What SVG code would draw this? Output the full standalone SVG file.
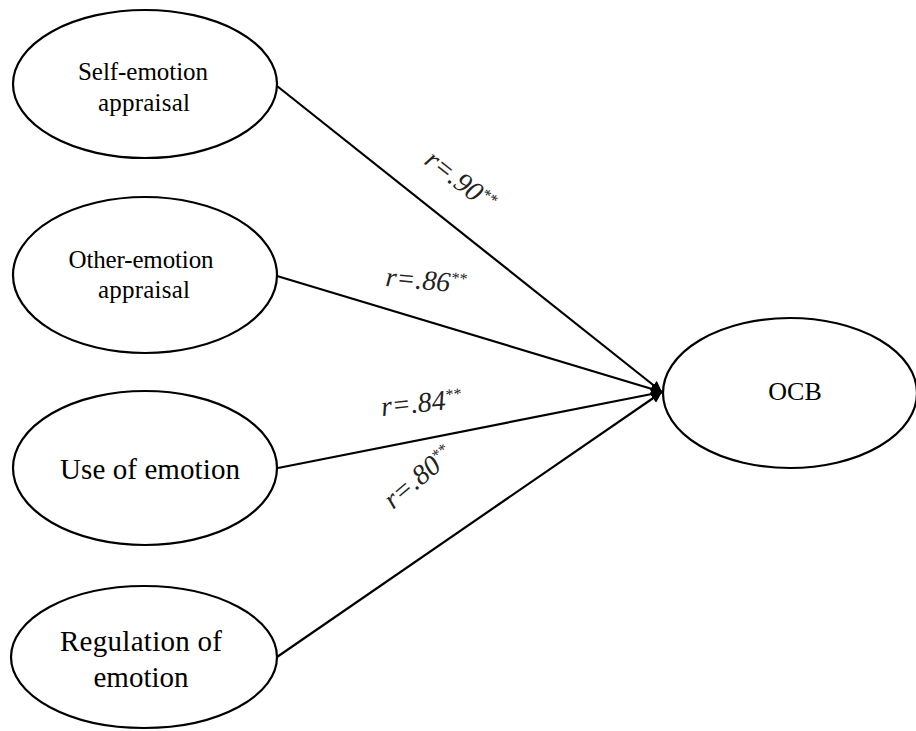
<svg xmlns="http://www.w3.org/2000/svg" width="916" height="731" viewBox="0 0 916 731">
  <style>
    .node ellipse { fill: #fff; stroke: #000; stroke-width: 2.2; }
    .lbl { font-family: "Liberation Serif", "Times New Roman", serif; fill: #000; text-anchor: middle; }
    .edge line { stroke: #000; stroke-width: 2.2; }
    .r { font-family: "Liberation Serif", "Times New Roman", serif; font-style: italic; font-size: 28px; fill: #222; }
    .sup { font-size: 16px; }
  </style>
  <defs>
    <marker id="arr" viewBox="0 0 10 10" refX="10" refY="5" markerWidth="5" markerHeight="5" orient="auto" markerUnits="strokeWidth">
      <path d="M0,0 L10,5 L0,10 z" fill="#000"/>
    </marker>
  </defs>
  <rect width="916" height="731" fill="#fff"/>
  <g class="edge">
    <line x1="277" y1="86" x2="662" y2="392" marker-end="url(#arr)"/>
    <line x1="277" y1="276" x2="662" y2="392" marker-end="url(#arr)"/>
    <line x1="278" y1="468" x2="662" y2="392" marker-end="url(#arr)"/>
    <line x1="277" y1="657" x2="662" y2="392" marker-end="url(#arr)"/>
  </g>
  <g id="n1" class="node">
    <ellipse cx="145" cy="84" rx="132" ry="74"/>
    <text class="lbl" x="143" y="80" font-size="25" textLength="130">Self-emotion</text>
    <text class="lbl" x="144" y="111" font-size="25" textLength="92">appraisal</text>
  </g>
  <g id="n2" class="node">
    <ellipse cx="145" cy="275" rx="132" ry="78"/>
    <text class="lbl" x="141" y="268" font-size="25" textLength="145">Other-emotion</text>
    <text class="lbl" x="144" y="298" font-size="25" textLength="92">appraisal</text>
  </g>
  <g id="n3" class="node">
    <ellipse cx="145" cy="468" rx="132" ry="77"/>
    <text class="lbl" x="150" y="479" font-size="29" textLength="180">Use of emotion</text>
  </g>
  <g id="n4" class="node">
    <ellipse cx="144" cy="657" rx="133" ry="71"/>
    <text class="lbl" x="141" y="651" font-size="29" textLength="162">Regulation of</text>
    <text class="lbl" x="141" y="687" font-size="29" textLength="95">emotion</text>
  </g>
  <g id="n5" class="node">
    <ellipse cx="790" cy="393" rx="127" ry="75"/>
    <text class="lbl" x="795" y="400" font-size="26">OCB</text>
  </g>
  <g id="labels">
    <text class="r" transform="translate(423,163) rotate(38)">r=.90<tspan class="sup" dy="-9">**</tspan></text>
    <text class="r" transform="translate(385,286) rotate(5)">r=.86<tspan class="sup" dy="-9">**</tspan></text>
    <text class="r" transform="translate(382,416) rotate(-6)">r=.84<tspan class="sup" dy="-9">**</tspan></text>
    <text class="r" transform="translate(393,510) rotate(-40)">r=.80<tspan class="sup" dy="-9">**</tspan></text>
  </g>
</svg>
